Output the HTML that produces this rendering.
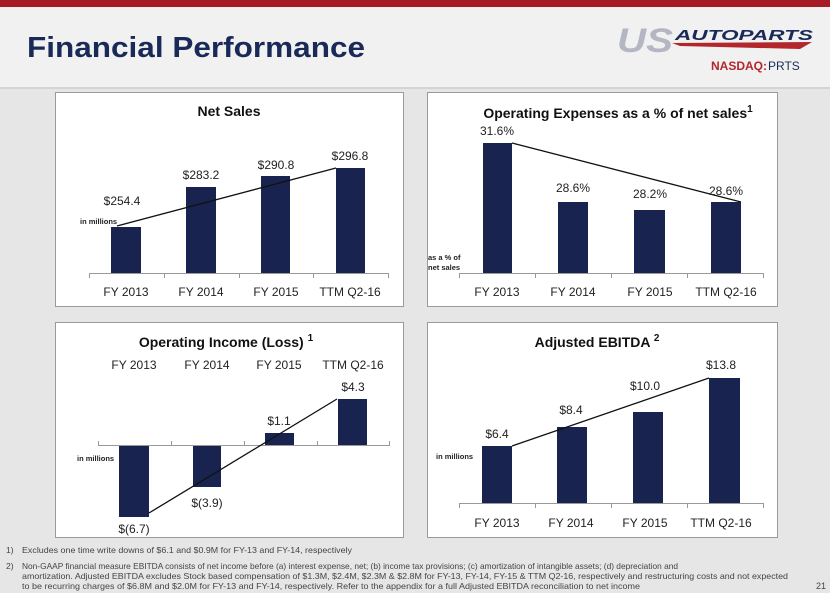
<!DOCTYPE html>
<html><head><meta charset="utf-8"><style>
body{margin:0;width:830px;height:593px;overflow:hidden;background:#e8e8e8;font-family:"Liberation Sans",sans-serif}
svg{display:block}
</style></head><body>
<svg width="830" height="593" viewBox="0 0 830 593" xmlns="http://www.w3.org/2000/svg" font-family="Liberation Sans, sans-serif">
<rect x="0" y="0" width="830" height="593" fill="#e6e6e6"/>
<rect x="0" y="0" width="830" height="88" fill="#f1f1f1"/>
<rect x="0" y="0" width="830" height="7" fill="#a51c24"/>
<rect x="0" y="87" width="830" height="2" fill="#d4d4d4"/>
<text x="27" y="57" font-size="29" font-weight="bold" fill="#1a2a58" textLength="338" lengthAdjust="spacingAndGlyphs">Financial Performance</text>
<text x="617" y="52" font-size="34" font-weight="bold" font-style="italic" fill="#b4b6c4" textLength="56" lengthAdjust="spacingAndGlyphs">US</text>
<text x="675" y="40" font-size="15" font-weight="bold" font-style="italic" fill="#1a2a58" textLength="138" lengthAdjust="spacingAndGlyphs">AUTOPARTS</text>
<polygon points="672,43 812,42 800,49 680,46" fill="#b3262c"/>
<text x="711" y="70" font-size="12" font-weight="bold" fill="#b3262c">NASDAQ:</text>
<text x="768" y="70" font-size="12" fill="#1a2a58">PRTS</text>

<g stroke="#9a9a9a" stroke-width="1" fill="#fff">
<rect x="55.5" y="92.5" width="348" height="214"/>
<rect x="427.5" y="92.5" width="350" height="214"/>
<rect x="55.5" y="322.5" width="348" height="215"/>
<rect x="427.5" y="322.5" width="350" height="215"/>
</g>

<g fill="#18244f">
<rect x="111" y="227" width="30" height="46"/><rect x="186" y="187" width="30" height="86"/><rect x="261" y="176" width="29" height="97"/><rect x="336" y="168" width="29" height="105"/>
<rect x="483" y="143" width="29" height="130"/><rect x="558" y="202" width="30" height="71"/><rect x="634" y="210" width="31" height="63"/><rect x="711" y="202" width="30" height="71"/>
<rect x="119" y="445" width="30" height="72"/><rect x="193" y="445" width="28" height="42"/><rect x="265" y="433" width="29" height="12"/><rect x="338" y="399" width="29" height="46"/>
<rect x="482" y="446" width="30" height="57"/><rect x="557" y="427" width="30" height="76"/><rect x="633" y="412" width="30" height="91"/><rect x="709" y="378" width="31" height="125"/>
</g>
<g stroke="#999" stroke-width="1">
<line x1="89" y1="273.5" x2="388" y2="273.5"/><line x1="89.5" y1="273" x2="89.5" y2="278"/><line x1="164.5" y1="273" x2="164.5" y2="278"/><line x1="239.5" y1="273" x2="239.5" y2="278"/><line x1="313.5" y1="273" x2="313.5" y2="278"/><line x1="388.5" y1="273" x2="388.5" y2="278"/>
<line x1="459" y1="273.5" x2="763" y2="273.5"/><line x1="459.5" y1="273" x2="459.5" y2="278"/><line x1="535.5" y1="273" x2="535.5" y2="278"/><line x1="611.5" y1="273" x2="611.5" y2="278"/><line x1="687.5" y1="273" x2="687.5" y2="278"/><line x1="763.5" y1="273" x2="763.5" y2="278"/>
<line x1="98" y1="445.5" x2="389" y2="445.5"/><line x1="98.5" y1="441" x2="98.5" y2="446"/><line x1="171.5" y1="441" x2="171.5" y2="446"/><line x1="244.5" y1="441" x2="244.5" y2="446"/><line x1="317.5" y1="441" x2="317.5" y2="446"/><line x1="389.5" y1="441" x2="389.5" y2="446"/>
<line x1="459" y1="503.5" x2="763" y2="503.5"/><line x1="459.5" y1="503" x2="459.5" y2="508"/><line x1="535.5" y1="503" x2="535.5" y2="508"/><line x1="611.5" y1="503" x2="611.5" y2="508"/><line x1="687.5" y1="503" x2="687.5" y2="508"/><line x1="763.5" y1="503" x2="763.5" y2="508"/>
</g>
<g stroke="#111" stroke-width="1.3">
<line x1="117" y1="226" x2="336" y2="168"/>
<line x1="512" y1="143" x2="741" y2="202"/>
<line x1="149" y1="513" x2="337" y2="399"/>
<line x1="512" y1="446" x2="709" y2="378"/>
</g>
<g font-size="14" font-weight="bold" fill="#111" text-anchor="middle">
<text x="229" y="116">Net Sales</text>
<text x="618" y="118">Operating Expenses as a % of net sales<tspan font-size="10" dy="-6">1</tspan></text>
<text x="226" y="347">Operating Income (Loss) <tspan font-size="10" dy="-6">1</tspan></text>
<text x="597" y="347">Adjusted EBITDA <tspan font-size="10" dy="-6">2</tspan></text>
</g>
<g font-size="12" fill="#222" text-anchor="middle">
<text x="122" y="205">$254.4</text><text x="201" y="179">$283.2</text><text x="276" y="169">$290.8</text><text x="350" y="160">$296.8</text>
<text x="126" y="296">FY 2013</text><text x="201" y="296">FY 2014</text><text x="276" y="296">FY 2015</text><text x="350" y="296">TTM Q2-16</text>
<text x="497" y="135">31.6%</text><text x="573" y="192">28.6%</text><text x="650" y="198">28.2%</text><text x="726" y="195">28.6%</text>
<text x="497" y="296">FY 2013</text><text x="573" y="296">FY 2014</text><text x="650" y="296">FY 2015</text><text x="726" y="296">TTM Q2-16</text>
<text x="134" y="533">$(6.7)</text><text x="207" y="507">$(3.9)</text><text x="279" y="425">$1.1</text><text x="353" y="391">$4.3</text>
<text x="134" y="369">FY 2013</text><text x="207" y="369">FY 2014</text><text x="279" y="369">FY 2015</text><text x="353" y="369">TTM Q2-16</text>
<text x="497" y="438">$6.4</text><text x="571" y="414">$8.4</text><text x="645" y="390">$10.0</text><text x="721" y="369">$13.8</text>
<text x="497" y="527">FY 2013</text><text x="571" y="527">FY 2014</text><text x="645" y="527">FY 2015</text><text x="721" y="527">TTM Q2-16</text>
</g>
<g font-size="7.5" font-weight="bold" fill="#222">
<text x="80" y="224">in millions</text>
<text x="428" y="260">as a % of</text><text x="428" y="270">net sales</text>
<text x="77" y="461">in millions</text>
<text x="436" y="459">in millions</text>
</g>
<g font-size="8.5" fill="#444">
<text x="6" y="553">1)</text><text x="22" y="553" textLength="330" lengthAdjust="spacingAndGlyphs">Excludes one time write downs of $6.1 and $0.9M for FY-13 and FY-14, respectively</text>
<text x="6" y="569">2)</text><text x="22" y="569" textLength="656" lengthAdjust="spacingAndGlyphs">Non-GAAP financial measure EBITDA consists of net income before (a) interest expense, net; (b) income tax provisions; (c) amortization of intangible assets; (d) depreciation and</text>
<text x="22" y="579" textLength="766" lengthAdjust="spacingAndGlyphs">amortization.  Adjusted EBITDA excludes Stock based compensation of $1.3M, $2.4M, $2.3M &amp; $2.8M for  FY-13, FY-14, FY-15 &amp; TTM Q2-16, respectively and restructuring costs and not expected</text>
<text x="22" y="589" textLength="618" lengthAdjust="spacingAndGlyphs">to be recurring charges of $6.8M and $2.0M for FY-13 and FY-14, respectively.  Refer to the appendix for a full Adjusted EBITDA reconciliation to net income</text>
<text x="816" y="589" font-size="9">21</text>
</g>
</svg>
</body></html>
